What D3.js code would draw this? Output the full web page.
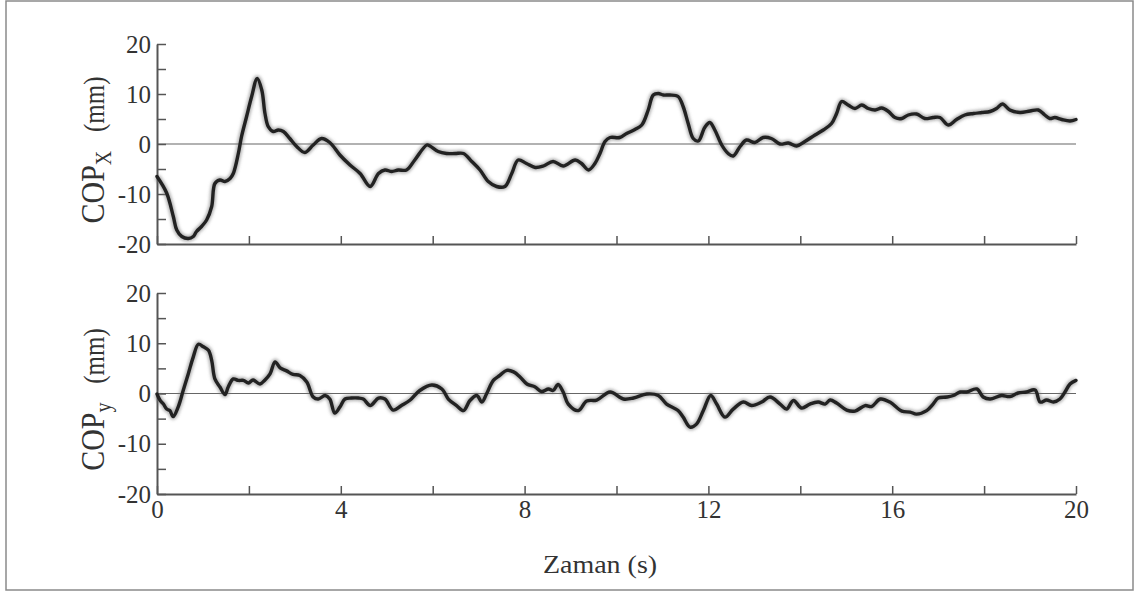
<!DOCTYPE html>
<html lang="tr">
<head>
<meta charset="UTF-8">
<title>COP</title>
<style>
  body { margin: 0; background: #fff; }
  svg { display: block; font-family: "Liberation Serif", "DejaVu Serif", serif; }
</style>
</head>
<body>
<svg id="chart" width="1140" height="595"></svg>
<script src="https://cdn.jsdelivr.net/npm/d3@7/dist/d3.min.js"></script>
<script>
// time (s) and COP values (mm)
var timeX = [0, 0.21, 0.355, 0.43, 0.54, 0.68, 0.79, 0.86, 0.97, 1.08, 1.19, 1.26, 1.37, 1.48, 1.59, 1.66,
  1.77, 1.84, 1.95, 2.06, 2.18, 2.28, 2.35, 2.42, 2.53, 2.64, 2.75, 2.89, 3.04, 3.22, 3.40, 3.58, 3.76,
  3.98, 4.20, 4.42, 4.64, 4.82, 4.96, 5.11, 5.25, 5.43, 5.61, 5.87, 5.94, 6.12, 6.30, 6.49, 6.67, 6.85,
  7.03, 7.21, 7.39, 7.57, 7.72, 7.86, 8.04, 8.23, 8.41, 8.62, 8.84, 9.10, 9.24, 9.39, 9.53, 9.64, 9.75,
  9.86, 10.07, 10.22, 10.40, 10.55, 10.69, 10.80, 10.91, 11.02, 11.16, 11.34, 11.45, 11.56, 11.67, 11.78,
  11.92, 12.03, 12.14, 12.29, 12.43, 12.54, 12.69, 12.83, 13.01, 13.19, 13.37, 13.56, 13.74, 13.92, 14.10,
  14.32, 14.50, 14.68, 14.79, 14.90, 15.04, 15.19, 15.34, 15.48, 15.63, 15.77, 15.92, 16.06, 16.21, 16.35,
  16.53, 16.71, 16.89, 17.04, 17.22, 17.40, 17.58, 17.77, 17.95, 18.13, 18.27, 18.40, 18.56, 18.78, 19.00,
  19.18, 19.32, 19.43, 19.54, 19.69, 19.87, 20];
var copX = [-6.5, -9.8, -14.5, -17.2, -18.5, -18.9, -18.5, -17.5, -16.5, -15.2, -12.5, -7.9, -7.2, -7.5, -6.9, -5.9,
  -1.9, 1.5, 5.5, 9.5, 13.1, 10.8, 6.1, 3.5, 2.5, 2.8, 2.5, 1.1, -0.5, -1.7, -0.2, 1.1, 0.3,
  -2.2, -4.2, -5.9, -8.5, -5.9, -5.2, -5.5, -5.2, -5.2, -3.2, -0.2, -0.4, -1.5, -1.9, -1.9, -1.9, -3.5,
  -5.2, -7.5, -8.5, -8.5, -5.9, -3.2, -3.9, -4.7, -4.4, -3.5, -4.4, -3.2, -3.9, -5.2, -3.9, -1.9, 0.5,
  1.3, 1.3, 2.1, 2.9, 3.8, 6.8, 9.8, 10.1, 9.8, 9.8, 9.5, 7.5, 4.1, 1.1, 0.6,
  3.3, 4.3, 2.8, -0.2, -1.9, -2.4, -0.5, 0.8, 0.3, 1.3, 1.1, 0, 0.2, -0.4, 0.5,
  1.8, 2.8, 4.1, 6.1, 8.5, 7.8, 7.1, 7.8, 7.1, 6.8, 7.2, 6.5, 5.3, 5.1, 5.8,
  6.0, 5.1, 5.3, 5.3, 3.8, 4.9, 5.8, 6.1, 6.3, 6.5, 7.1, 8.0, 6.8, 6.3, 6.6,
  6.8, 5.8, 5.1, 5.3, 4.9, 4.6, 4.9];

var timeY = [0, 0.07, 0.14, 0.21, 0.28, 0.35, 0.46, 0.57, 0.68, 0.79, 0.90, 1.01, 1.12, 1.19, 1.26, 1.37,
  1.48, 1.55, 1.66, 1.77, 1.88, 1.99, 2.09, 2.24, 2.35, 2.46, 2.57, 2.68, 2.82, 2.96, 3.11, 3.26, 3.40,
  3.51, 3.66, 3.76, 3.87, 3.98, 4.09, 4.23, 4.38, 4.49, 4.64, 4.82, 4.96, 5.14, 5.32, 5.51, 5.72, 5.98,
  6.20, 6.34, 6.52, 6.67, 6.81, 6.96, 7.07, 7.17, 7.32, 7.46, 7.61, 7.76, 7.90, 8.05, 8.23, 8.37, 8.52,
  8.62, 8.73, 8.84, 8.95, 9.17, 9.35, 9.57, 9.86, 10.15, 10.37, 10.66, 10.91, 11.09, 11.34, 11.45, 11.60,
  11.74, 11.89, 12.05, 12.18, 12.36, 12.54, 12.76, 12.94, 13.16, 13.34, 13.56, 13.70, 13.85, 14.03, 14.21,
  14.39, 14.54, 14.65, 14.79, 15.01, 15.19, 15.41, 15.55, 15.74, 15.95, 16.21, 16.39, 16.53, 16.75, 16.89,
  17.00, 17.19, 17.33, 17.48, 17.62, 17.84, 17.98, 18.13, 18.38, 18.56, 18.74, 18.92, 19.11, 19.22, 19.36,
  19.51, 19.65, 19.76, 19.87, 20];
var copY = [-0.1, -1.4, -2.1, -3.1, -3.4, -4.6, -2.7, 0.6, 3.9, 7.3, 9.8, 9.3, 8.6, 6.6, 2.9, 1.3,
  -0.2, 1.3, 2.9, 2.6, 2.6, 2.1, 2.7, 1.9, 2.7, 3.9, 6.3, 5.1, 4.5, 3.8, 3.6, 2.3, -0.7,
  -1.1, -0.4, -1.1, -3.9, -2.7, -1.1, -0.9, -0.9, -1.1, -2.4, -0.9, -1.1, -3.3, -2.4, -1.3, 0.6, 1.7,
  0.9, -1.1, -2.4, -3.4, -1.4, -0.4, -1.7, -0.1, 2.6, 3.6, 4.6, 4.3, 3.3, 1.9, 1.3, 0.4, 0.9,
  0.6, 1.8, 0.3, -2.1, -3.4, -1.5, -1.3, 0.3, -1.1, -0.9, -0.1, -0.4, -2.1, -3.4, -4.7, -6.7,
  -6.1, -3.4, -0.4, -2.1, -4.7, -3.1, -1.7, -2.4, -1.7, -0.7, -2.1, -3.1, -1.4, -2.9, -2.1,
  -1.7, -2.1, -1.3, -1.9, -3.3, -3.5, -2.4, -2.6, -1.1, -1.7, -3.5, -3.7, -4.1, -3.4, -2.1,
  -0.9, -0.7, -0.4, 0.3, 0.3, 0.9, -0.7, -1.1, -0.4, -0.6, 0.1, 0.3, 0.7, -1.7, -1.3,
  -1.7, -1.1, 0.3, 1.9, 2.6];

var xTickValues = [0, 2, 4, 6, 8, 10, 12, 14, 16, 18, 20];
var xTickLabels = [0, 4, 8, 12, 16, 20];
var yTickValues = [-20, -15, -10, -5, 0, 5, 10, 15, 20];
var yTickLabels = [-20, -10, 0, 10, 20];

var svg = d3.select("#chart");
var left = 157, right = 1076;

// outer frame
svg.append("rect")
  .attr("x", 6).attr("y", 1).attr("width", 1127).attr("height", 589)
  .attr("fill", "none").attr("stroke", "#8a8a8a").attr("stroke-width", 1.5);

var defs = svg.append("defs");
defs.append("filter").attr("id", "soft")
  .attr("x", "-5%").attr("y", "-20%").attr("width", "110%").attr("height", "140%")
  .append("feGaussianBlur").attr("stdDeviation", 1.6);

var x = d3.scaleLinear().domain([0, 20]).range([left, right]);

function panel(top, bottom, times, values, sub, showLabels) {
  var y = d3.scaleLinear().domain([-20, 20]).range([bottom, top]);
  var g = svg.append("g");

  // zero line
  g.append("line")
    .attr("x1", x(0)).attr("x2", x(20)).attr("y1", y(0)).attr("y2", y(0))
    .attr("stroke", "#666").attr("stroke-width", 1.2);

  var yAxis = d3.axisLeft(y)
    .tickValues(yTickValues)
    .tickSizeInner(-9).tickSizeOuter(0).tickPadding(6)
    .tickFormat(d => yTickLabels.indexOf(d) >= 0 ? String(d) : "");
  var ya = g.append("g").attr("transform", "translate(" + left + ",0)").call(yAxis);

  var xAxis = d3.axisBottom(x)
    .tickValues(xTickValues)
    .tickSizeInner(-8).tickSizeOuter(0).tickPadding(6)
    .tickFormat(d => showLabels && xTickLabels.indexOf(d) >= 0 ? String(d) : "");
  var xa = g.append("g").attr("transform", "translate(0," + bottom + ")").call(xAxis);

  [ya, xa].forEach(a => {
    a.attr("font-size", null).attr("font-family", null);
    a.select(".domain").attr("stroke", "#555").attr("stroke-width", 2);
    a.selectAll(".tick line").attr("stroke", "#555").attr("stroke-width", 1.5);
    a.selectAll(".tick text").attr("fill", "#333")
      .style("font-size", "25px")
      .style("font-family", "'Liberation Serif', serif");
  });

  var pts = times.map((t, i) => [t, values[i]]);
  var line = d3.line()
    .x(d => x(d[0])).y(d => y(d[1]))
    .curve(d3.curveCatmullRom.alpha(0.5));

  g.append("path").datum(pts)
    .attr("d", line).attr("fill", "none")
    .attr("stroke", "#777").attr("stroke-opacity", 0.55).attr("stroke-width", 6.5)
    .attr("filter", "url(#soft)");
  g.append("path").datum(pts)
    .attr("d", line).attr("fill", "none")
    .attr("stroke", "#222").attr("stroke-width", 3.4)
    .attr("stroke-linejoin", "round").attr("stroke-linecap", "round");

  // rotated y label COP_x (mm)
  var cy = (top + bottom) / 2 + 6;
  var t = svg.append("text")
    .attr("transform", "translate(104," + cy + ") scale(1.15,1) rotate(-90)")
    .attr("text-anchor", "middle").attr("fill", "#333");
  t.append("tspan").attr("font-size", 30).text("COP");
  t.append("tspan").attr("font-size", 20).attr("dy", 6).text(sub);
  t.append("tspan").attr("font-size", 25).attr("dy", -6).text("\u2002 (mm)");
}

panel(44, 244, timeX, copX, "X", false);
panel(293, 494, timeY, copY, "y", true);

svg.append("text")
  .attr("transform", "translate(600,573) scale(1.12,1)")
  .attr("text-anchor", "middle").attr("font-size", 25).attr("fill", "#333")
  .text("Zaman (s)");
</script>
</body>
</html>
